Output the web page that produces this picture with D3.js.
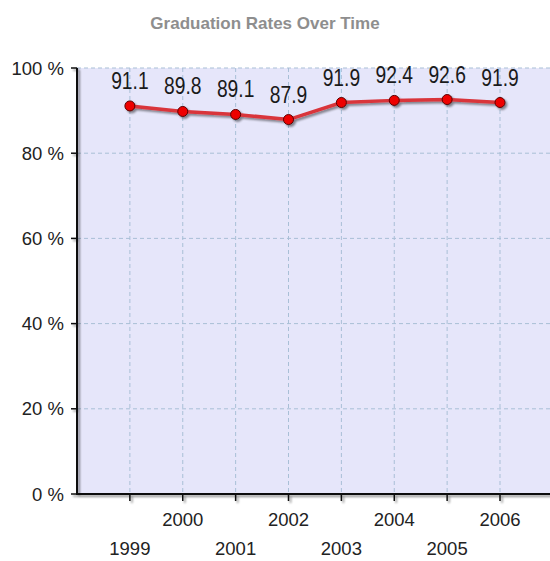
<!DOCTYPE html>
<html><head><meta charset="utf-8">
<script src="https://cdn.jsdelivr.net/npm/d3@7"></script>
<style>body{margin:0;background:#fff}svg{display:block}</style>
</head><body>
<svg id="c" width="550" height="561"></svg>
<script>
const years = [1999, 2000, 2001, 2002, 2003, 2004, 2005, 2006];
const rates = [91.1, 89.8, 89.1, 87.9, 91.9, 92.4, 92.6, 91.9];
const yTicks = [0, 20, 40, 60, 80, 100];
const title = "Graduation Rates Over Time";

const FONT = "Liberation Sans, Arial, sans-serif";
const svg = d3.select("#c");
const L = 77, T = 68, B = 494, R = 550;
const x = d3.scaleLinear().domain([1998, 2006]).range([L, 500]);
const y = d3.scaleLinear().domain([0, 100]).range([B, T]);

const defs = svg.append("defs");
const f = defs.append("filter").attr("id","sh").attr("x","-10%").attr("y","-10%").attr("width","130%").attr("height","150%");
f.append("feGaussianBlur").attr("in","SourceAlpha").attr("stdDeviation",1.2).attr("result","b");
f.append("feOffset").attr("dx",1.5).attr("dy",2).attr("result","o");
f.append("feComponentTransfer").append("feFuncA").attr("type","linear").attr("slope",0.45);
const m = f.append("feMerge"); m.append("feMergeNode"); m.append("feMergeNode").attr("in","SourceGraphic");

svg.append("text").attr("x", 265).attr("y", 29).attr("text-anchor","middle")
  .attr("font-family",FONT).attr("font-size",17).attr("font-weight","bold")
  .attr("fill","#8e8e8e").text(title);

svg.append("rect").attr("x",L).attr("y",T).attr("width",R-L).attr("height",B-T).attr("fill","#e6e6fa");

// grid
svg.append("g").selectAll("line").data(yTicks.filter(d=>d>0)).join("line")
  .attr("x1",L).attr("x2",R).attr("y1",d=>y(d)).attr("y2",d=>y(d))
  .attr("stroke","#a9bfd6").attr("stroke-dasharray","4,3");
svg.append("g").selectAll("line").data(years).join("line")
  .attr("x1",d=>x(d)).attr("x2",d=>x(d)).attr("y1",T).attr("y2",B)
  .attr("stroke","#a9bfd6").attr("stroke-dasharray","4,3");

// axes
const axG = svg.append("g").attr("filter","url(#sh)");
axG.append("line").attr("x1",L).attr("x2",L).attr("y1",T).attr("y2",B+1).attr("stroke","#111").attr("stroke-width",2);
axG.append("line").attr("x1",L-1).attr("x2",R).attr("y1",B).attr("y2",B).attr("stroke","#111").attr("stroke-width",2);
axG.selectAll(".yt").data(yTicks).join("line").attr("x1",L-6).attr("x2",L).attr("y1",d=>y(d)).attr("y2",d=>y(d)).attr("stroke","#111").attr("stroke-width",1.5);
axG.selectAll(".xt").data(years).join("line").attr("x1",d=>x(d)).attr("x2",d=>x(d)).attr("y1",B).attr("y2",B+7).attr("stroke","#111").attr("stroke-width",1.5);

svg.append("g").selectAll("text").data(yTicks).join("text")
  .attr("x",L-13).attr("y",d=>y(d)+6.5).attr("text-anchor","end")
  .attr("font-family",FONT).attr("font-size",18.5).attr("fill","#222")
  .text(d=>d+" %");

svg.append("g").selectAll("text").data(years).join("text")
  .attr("x",d=>x(d)).attr("y",(d,i)=> i%2===1 ? 526 : 555).attr("text-anchor","middle")
  .attr("font-family",FONT).attr("font-size",18.5).attr("fill","#222")
  .text(d=>d);

// line
const pts = years.map((d,i)=>[d,rates[i]]);
const lineG = svg.append("g").attr("filter","url(#sh)");
lineG.append("path").datum(pts)
  .attr("d", d3.line().x(d=>x(d[0])).y(d=>y(d[1])))
  .attr("fill","none").attr("stroke","#d9343a").attr("stroke-width",3.5);
lineG.selectAll("circle").data(pts).join("circle")
  .attr("cx",d=>x(d[0])).attr("cy",d=>y(d[1])).attr("r",5)
  .attr("fill","#ee0000").attr("stroke","#5a0000").attr("stroke-width",1);

svg.append("g").selectAll("text").data(pts).join("text")
  .attr("transform",d=>`translate(${x(d[0])},${y(d[1])-17}) scale(0.82,1)`)
  .attr("text-anchor","middle")
  .attr("font-family",FONT).attr("font-size",23.5).attr("fill","#1a1a1a")
  .text(d=>d[1].toFixed(1));
</script>
</body></html>
